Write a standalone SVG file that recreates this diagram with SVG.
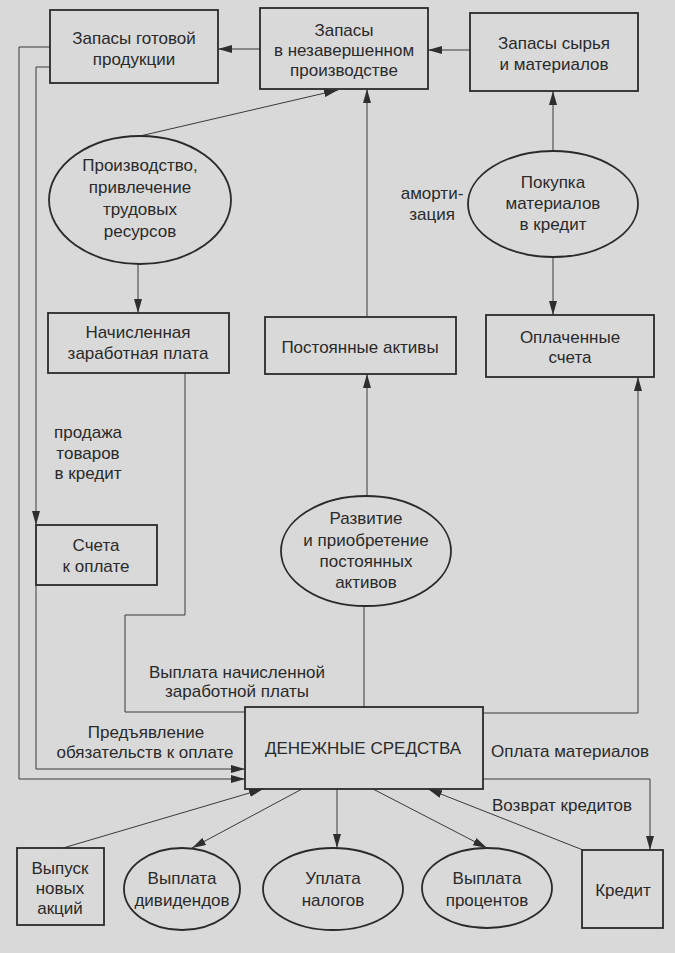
<svg xmlns="http://www.w3.org/2000/svg" width="675" height="953" viewBox="0 0 675 953">
<defs>
<marker id="arr" viewBox="0 0 14 8" refX="14" refY="4" markerWidth="14" markerHeight="8" markerUnits="userSpaceOnUse" orient="auto"><path d="M0,0 L14,4 L0,8 z" fill="#2e2e2e"/></marker>
<style>
.bg{fill:#d9d9d9}
.box{fill:none;stroke:#2a2a2a;stroke-width:1.8}
.c{fill:none;stroke:#3a3a3a;stroke-width:1}
.a{marker-end:url(#arr)}
text{font-family:"Liberation Sans",Arial,sans-serif;font-size:17px;fill:#2a2a2a;text-anchor:middle}
</style>
</defs>
<rect class="bg" x="0" y="0" width="675" height="953"/>

<g id="connectors">
<line class="c a" x1="470" y1="50" x2="428" y2="50"/>
<line class="c a" x1="260" y1="49" x2="218" y2="49"/>
<line class="c a" x1="140" y1="136" x2="338" y2="90"/>
<line class="c a" x1="138" y1="264" x2="138" y2="313"/>
<line class="c a" x1="553" y1="151" x2="553" y2="91"/>
<line class="c a" x1="553" y1="257" x2="553" y2="315"/>
<line class="c a" x1="367" y1="317" x2="367" y2="89"/>
<line class="c a" x1="367" y1="496" x2="367" y2="374"/>
<line class="c" x1="364" y1="707" x2="364" y2="606"/>
<polyline class="c a" points="483,713 638,713 638,377"/>
<polyline class="c a" points="483,779 650,779 650,850"/>
<line class="c a" x1="583" y1="850" x2="428" y2="789"/>
<line class="c a" x1="373" y1="789" x2="487" y2="848"/>
<line class="c a" x1="337" y1="789" x2="337" y2="848"/>
<line class="c a" x1="302" y1="789" x2="192" y2="848"/>
<line class="c a" x1="63" y1="848" x2="263" y2="789"/>
<polyline class="c a" points="50,47 19,47 19,779 245,779"/>
<polyline class="c a" points="50,67 36,67 36,525"/>
<polyline class="c a" points="36,585 36,769 245,769"/>
<polyline class="c" points="185,373 185,615 125,615 125,712 245,712"/>
</g>

<g id="n_gotovoy"><rect class="box" x="50" y="10" width="168" height="73"/><text x="134" y="44">Запасы готовой</text><text x="134" y="65">продукции</text></g>
<g id="n_nezav"><rect class="box" x="260" y="8" width="168" height="81"/><text x="344" y="36">Запасы</text><text x="344" y="56">в незавершенном</text><text x="344" y="76">производстве</text></g>
<g id="n_syrya"><rect class="box" x="470" y="13" width="168" height="78"/><text x="554" y="49">Запасы сырья</text><text x="554" y="70">и материалов</text></g>
<g id="n_proizv"><ellipse class="box" cx="140" cy="200" rx="91" ry="64"/><text x="140" y="171">Производство,</text><text x="140" y="193">привлечение</text><text x="140" y="215">трудовых</text><text x="140" y="237">ресурсов</text></g>
<g id="n_pokupka"><ellipse class="box" cx="553" cy="204" rx="85" ry="53"/><text x="553" y="188">Покупка</text><text x="553" y="209">материалов</text><text x="553" y="230">в кредит</text></g>
<g id="l_amort"><text x="432" y="199">аморти-</text><text x="432" y="220">зация</text></g>
<g id="n_nachisl"><rect class="box" x="48" y="313" width="181" height="60"/><text x="138" y="338">Начисленная</text><text x="138" y="359">заработная плата</text></g>
<g id="n_postoyan"><rect class="box" x="265" y="317" width="191" height="57"/><text x="360" y="353">Постоянные активы</text></g>
<g id="n_oplach"><rect class="box" x="486" y="315" width="168" height="62"/><text x="570" y="343">Оплаченные</text><text x="570" y="363">счета</text></g>
<g id="n_razvitie"><ellipse class="box" cx="366" cy="551" rx="85" ry="55"/><text x="366" y="524">Развитие</text><text x="366" y="546">и приобретение</text><text x="366" y="567">постоянных</text><text x="366" y="588">активов</text></g>
<g id="n_scheta"><rect class="box" x="36" y="525" width="121" height="60"/><text x="96" y="551">Счета</text><text x="96" y="572">к оплате</text></g>
<g id="l_prodazha"><text x="88" y="438">продажа</text><text x="88" y="459">товаров</text><text x="88" y="479">в кредит</text></g>
<g id="l_vyplata_zp"><text x="237" y="678">Выплата начисленной</text><text x="237" y="697">заработной платы</text></g>
<g id="l_predyavl"><text x="146" y="738">Предъявление</text><text x="145" y="758">обязательств к оплате</text></g>
<g id="n_money"><rect class="box" x="245" y="707" width="238" height="82"/><text x="363" y="754">ДЕНЕЖНЫЕ СРЕДСТВА</text></g>
<g id="l_oplata_mat"><text x="570" y="757">Оплата материалов</text></g>
<g id="l_vozvrat"><text x="562" y="811">Возврат кредитов</text></g>
<g id="n_vypusk"><rect class="box" x="17" y="848" width="87" height="77"/><text x="60" y="874">Выпуск</text><text x="60" y="894">новых</text><text x="60" y="914">акций</text></g>
<g id="n_divid"><ellipse class="box" cx="182" cy="889" rx="58" ry="41"/><text x="182" y="884">Выплата</text><text x="182" y="906">дивидендов</text></g>
<g id="n_nalogi"><ellipse class="box" cx="333" cy="889" rx="70" ry="41"/><text x="333" y="884">Уплата</text><text x="333" y="906">налогов</text></g>
<g id="n_procent"><ellipse class="box" cx="487" cy="888" rx="65" ry="40"/><text x="487" y="884">Выплата</text><text x="487" y="906">процентов</text></g>
<g id="n_kredit"><rect class="box" x="582" y="850" width="81" height="78"/><text x="623" y="896">Кредит</text></g>
</svg>
